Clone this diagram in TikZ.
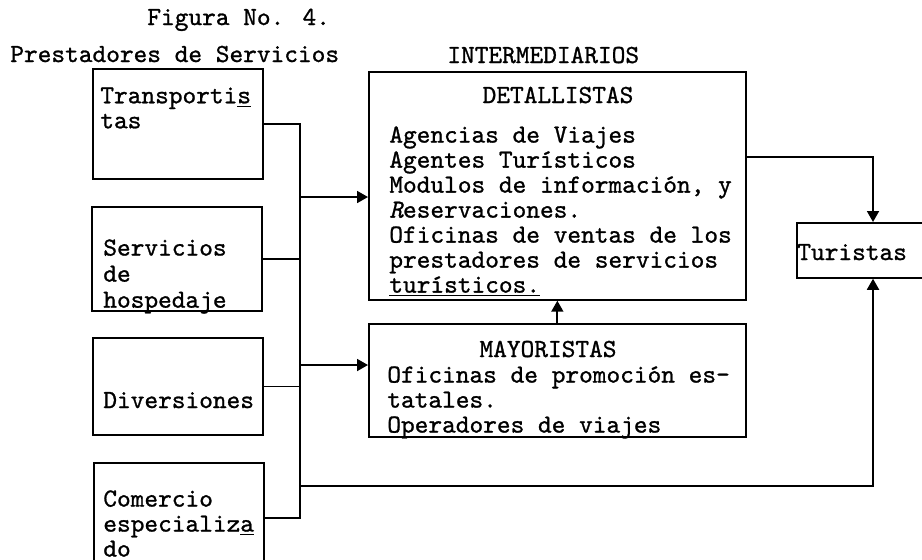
\documentclass[tikz,border=0pt]{standalone}
\usepackage{fontspec}
\newfontfamily\typew{lmmono10-regular}[Extension=.otf, ItalicFont=lmmono10-italic, FakeBold=1]
\usepackage{tikz}
\usetikzlibrary{positioning,arrows.meta,calc}

\begin{document}
\begin{tikzpicture}[
    x=0.02cm, y=-0.02cm,
    every node/.style={font=\fontsize{14.85}{14.23}\selectfont\typew, inner sep=0pt},
    prov_box/.style={rectangle, draw, line width=1pt, anchor=north west, minimum width=3.4cm},
    inter_box/.style={rectangle, draw, line width=1pt, anchor=north west, minimum width=7.54cm},
    tur_box/.style={rectangle, draw, line width=1pt, anchor=north west, minimum width=3.2cm, minimum height=1.1cm},
    txt/.style={anchor=north west, align=left},
    one_line/.style={anchor=base west},
    head_lbl/.style={anchor=base},
    link/.style={draw, line width=1pt},
    arr/.style={link, -{Triangle[length=0.22cm, width=0.24cm]}}
]
\useasboundingbox (0,0) rectangle (922,559);

% Titles
\node[one_line] (fig) at (147,25) {Figura No. 4.};
\node[one_line] (prest) at (10,62) {Prestadores de Servicios};
\node[one_line] (inter) at (447,63) {INTERMEDIARIOS};

% Prestadores de servicios
\node[prov_box, minimum height=2.2cm] (trans) at (92,68) {};
\node[prov_box, minimum height=2.08cm] (serv) at (91,206) {};
\node[prov_box, minimum height=1.94cm] (div) at (92,337) {};
\node[prov_box, minimum height=2.2cm] (com) at (93,462) {};

\node[txt] (trans_t) at (100,87) {Transporti\underline{s}\\tas};
\node[txt] (serv_t) at (103,239) {Servicios\\[0.6pt]de\\[0.6pt]hospedaje};
\node[one_line] (div_t) at (103,408) {Diversiones};
\node[txt] (com_t) at (103,490) {Comercio\\especializ\underline{a}\\do};

% Intermediarios
\node[inter_box, minimum height=4.56cm] (det) at (368,71) {};
\node[head_lbl] (det_t) at (558,103) {DETALLISTAS};
\node[txt] (det_l) at (389,126) {Agencias de Viajes\\Agentes Turísticos\\Modulos de información, y\\{\itshape R}eservaciones.\\Oficinas de ventas de los\\prestadores de servicios\\\underline{turísticos.}};

\node[inter_box, minimum height=2.26cm] (may) at (368,323) {};
\node[head_lbl] (may_t) at (548,357) {MAYORISTAS};
\node[txt] (may_l) at (387,366) {Oficinas de promoción es-\\tatales.\\Operadores de viajes};

% Turistas
\node[tur_box] (tur) at (796,222) {};
\node[one_line] (tur_t) at (797,260) {Turistas};

% Connectors
\coordinate (bus) at (300,0);
\coordinate (det_in) at (368,197);
\coordinate (may_in) at (368,365);
\coordinate (det_out) at (745,157);
\coordinate (tur_in) at (873,0);
\coordinate (low) at (300,486);

\draw[link] (trans.east) -- (trans.east -| bus) -- (com.east -| bus) -- (com.east);
\draw[link] (serv.east) -- (serv.east -| bus);
\draw[link] (div.east) -- (div.east -| bus);
\draw[arr] (det_in -| bus) -- (det_in);
\draw[arr] (may_in -| bus) -- (may_in);
\draw[arr] (may.north) -- (det.south);
\draw[arr] (det_out) -| (tur.north -| tur_in);
\draw[arr] (low) -| (tur.south -| tur_in);

\end{tikzpicture}
\end{document}
